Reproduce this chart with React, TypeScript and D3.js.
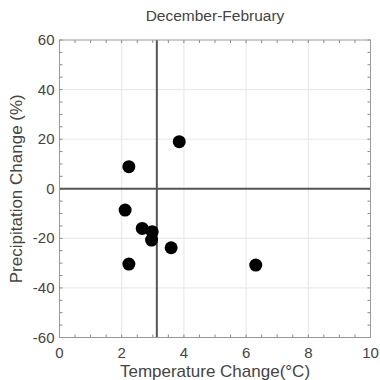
import React from 'react';
import * as d3 from 'd3';

const tempChange = [3.85, 2.23, 2.11, 2.66, 2.98, 2.96, 3.59, 2.23, 6.31];
const precipChange = [19.0, 8.9, -8.6, -16.0, -17.3, -20.7, -23.8, -30.4, -30.8];
const xTicks = [0, 2, 4, 6, 8, 10];
const yTicks = [60, 40, 20, 0, -20, -40, -60];
const meanTemp = 3.13;

const width = 380;
const height = 380;
const margin = { top: 40, right: 9.5, bottom: 42.5, left: 59.5 };

export default function App() {
  const x = d3.scaleLinear().domain([0, 10]).range([margin.left, width - margin.right]);
  const y = d3.scaleLinear().domain([-60, 60]).range([height - margin.bottom, margin.top]);
  const [x0, x1] = x.range();
  const [y1, y0] = y.range();

  const xMinor = d3.range(0, 10.01, 0.5);
  const yMinor = d3.range(-60, 60.01, 5);
  const textColor = '#444';
  const font = 'Liberation Sans, Arial, sans-serif';

  return (
    <svg width={width} height={height} style={{ position: 'absolute', left: 0, top: 0 }}>
      <rect width={width} height={height} fill="#fff" />

      {/* grid */}
      {xTicks.slice(1, -1).map(t => (
        <line key={'gx' + t} x1={x(t)} x2={x(t)} y1={y0} y2={y1} stroke="#e6e6e6" strokeWidth={1} />
      ))}
      {yTicks.slice(1, -1).filter(t => t !== 0).map(t => (
        <line key={'gy' + t} x1={x0} x2={x1} y1={y(t)} y2={y(t)} stroke="#e6e6e6" strokeWidth={1} />
      ))}

      {/* minor ticks, all sides, inward */}
      {xMinor.map(t => (
        <g key={'mx' + t} stroke="#888" strokeWidth={1}>
          <line x1={x(t)} x2={x(t)} y1={y1} y2={y1 - 3} />
          <line x1={x(t)} x2={x(t)} y1={y0} y2={y0 + 3} />
        </g>
      ))}
      {yMinor.map(t => (
        <g key={'my' + t} stroke="#888" strokeWidth={1}>
          <line x1={x0} x2={x0 + 3} y1={y(t)} y2={y(t)} />
          <line x1={x1} x2={x1 - 3} y1={y(t)} y2={y(t)} />
        </g>
      ))}

      {/* reference lines */}
      <line x1={x0} x2={x1} y1={y(0)} y2={y(0)} stroke="#555" strokeWidth={2} />
      <line x1={x(meanTemp)} x2={x(meanTemp)} y1={y0} y2={y1} stroke="#555" strokeWidth={2} />

      {/* frame */}
      <rect x={x0} y={y0} width={x1 - x0} height={y1 - y0} fill="none" stroke="#999" strokeWidth={1} />

      {/* points */}
      {tempChange.map((t, i) => (
        <circle key={i} cx={x(t)} cy={y(precipChange[i])} r={6.5} fill="#000" />
      ))}

      {/* tick labels */}
      {xTicks.map(t => (
        <text key={'tx' + t} x={x(t)} y={y1 + 20} textAnchor="middle" fontFamily={font} fontSize={15} fill={textColor}>{t}</text>
      ))}
      {yTicks.map(t => (
        <text key={'ty' + t} x={x0 - 5} y={y(t) + 5} textAnchor="end" fontFamily={font} fontSize={15} fill={textColor}>{t}</text>
      ))}

      <text x={(x0 + x1) / 2} y={21} textAnchor="middle" fontFamily={font} fontSize={15.5} fill={textColor}>December-February</text>
      <text x={(x0 + x1) / 2} y={y1 + 39} textAnchor="middle" fontFamily={font} fontSize={17} fill={textColor}>Temperature Change(°C)</text>
      <text transform={`translate(22,${(y0 + y1) / 2}) rotate(-90)`} textAnchor="middle" fontFamily={font} fontSize={17} fill={textColor}>Precipitation Change (%)</text>
    </svg>
  );
}
